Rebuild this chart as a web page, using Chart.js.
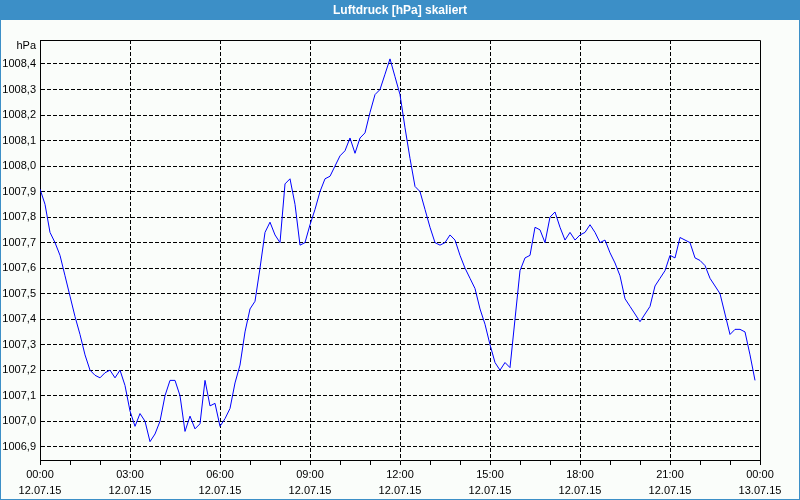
<!DOCTYPE html>
<html>
<head>
<meta charset="utf-8">
<script src="https://cdn.jsdelivr.net/npm/chart.js@4/dist/chart.umd.min.js"></script>
<style>
  html, body { margin: 0; padding: 0; background: #fff; }
  #wrap { width: 800px; height: 500px; }
</style>
</head>
<body>
<div id="wrap"><canvas id="c" width="800" height="500"></canvas></div>
<script>
// ---- data ----
const chartTitle = 'Luftdruck [hPa] skaliert';
const unitLabel = 'hPa';
const sampleIntervalMin = 10;   // one reading every 10 minutes, starting 12.07.15 00:00
const pressure = [
  1007.91, 1007.85, 1007.74, 1007.70, 1007.65, 1007.57, 1007.49, 1007.41, 1007.34, 1007.26,
  1007.20, 1007.18, 1007.17, 1007.19, 1007.20, 1007.17, 1007.20, 1007.14, 1007.04, 1006.98,
  1007.03, 1007.00, 1006.92, 1006.95, 1007.00, 1007.10, 1007.16, 1007.16, 1007.10, 1006.96,
  1007.02, 1006.97, 1006.99, 1007.16, 1007.06, 1007.07, 1006.98, 1007.01, 1007.05, 1007.15,
  1007.22, 1007.35, 1007.44, 1007.47, 1007.60, 1007.74, 1007.78, 1007.73, 1007.70, 1007.93,
  1007.95, 1007.85, 1007.69, 1007.70, 1007.77, 1007.83, 1007.90, 1007.95, 1007.96, 1008.00,
  1008.04, 1008.06, 1008.11, 1008.05, 1008.11, 1008.13, 1008.21, 1008.28, 1008.30, 1008.36,
  1008.42, 1008.35, 1008.28, 1008.15, 1008.03, 1007.92, 1007.90, 1007.83, 1007.76, 1007.70,
  1007.69, 1007.70, 1007.73, 1007.71, 1007.65, 1007.60, 1007.56, 1007.52, 1007.44, 1007.38,
  1007.30, 1007.23, 1007.20, 1007.23, 1007.21, 1007.40, 1007.59, 1007.64, 1007.65, 1007.76,
  1007.75, 1007.70, 1007.80, 1007.82, 1007.76, 1007.71, 1007.74, 1007.71, 1007.73, 1007.74,
  1007.77, 1007.74, 1007.70, 1007.71, 1007.66, 1007.62, 1007.57, 1007.48, 1007.45, 1007.42,
  1007.39, 1007.42, 1007.45, 1007.53, 1007.56, 1007.59, 1007.65, 1007.64, 1007.72, 1007.71,
  1007.70, 1007.64, 1007.63, 1007.61, 1007.56, 1007.53, 1007.50, 1007.42, 1007.34, 1007.36,
  1007.36, 1007.35, 1007.26, 1007.16
];
const yTicks = [1006.9, 1007.0, 1007.1, 1007.2, 1007.3, 1007.4, 1007.5, 1007.6, 1007.7, 1007.8, 1007.9, 1008.0, 1008.1, 1008.2, 1008.3, 1008.4];
const yMin = 1006.848;
const yMax = 1008.494;
const xTickMinutes = [0, 180, 360, 540, 720, 900, 1080, 1260, 1440];
const xTickTimes = ['00:00', '03:00', '06:00', '09:00', '12:00', '15:00', '18:00', '21:00', '00:00'];
const xTickDates = ['12.07.15', '12.07.15', '12.07.15', '12.07.15', '12.07.15', '12.07.15', '12.07.15', '12.07.15', '13.07.15'];
const xMinorStepMin = 60;

// ---- build ----
const points = pressure.map((v, i) => ({ x: i * sampleIntervalMin, y: v }));
const FONT = 'Liberation Sans, Arial, sans-serif';
const BLUE = '#3c8fc7';

const framePlugin = {
  id: 'frame',
  beforeDraw(chart) {
    const ctx = chart.ctx;
    const W = chart.width, H = chart.height;
    ctx.save();
    ctx.fillStyle = '#fafdfa';
    ctx.fillRect(0, 0, W, H);
    ctx.fillStyle = BLUE;
    ctx.fillRect(0, 0, W, 20);
    ctx.fillRect(0, 0, 1, H);
    ctx.fillRect(W - 1, 0, 1, H);
    ctx.fillRect(0, H - 1, W, 1);
    ctx.restore();
  },
  afterDraw(chart) {
    const ctx = chart.ctx;
    const a = chart.chartArea;
    ctx.save();
    ctx.strokeStyle = '#000';
    ctx.lineWidth = 1;
    ctx.beginPath();
    ctx.moveTo(a.left, a.top + 0.5);
    ctx.lineTo(a.right + 0.5, a.top + 0.5);
    ctx.lineTo(a.right + 0.5, a.bottom);
    ctx.stroke();
    ctx.fillStyle = '#000';
    ctx.font = '11px ' + FONT;
    ctx.textAlign = 'right';
    ctx.textBaseline = 'middle';
    ctx.fillText(unitLabel, a.left - 4, a.top + 6);
    ctx.restore();
  }
};

new Chart(document.getElementById('c'), {
  type: 'line',
  data: {
    datasets: [{
      data: points,
      borderColor: '#0000ff',
      borderWidth: 1,
      pointRadius: 0,
      tension: 0,
      fill: false
    }]
  },
  options: {
    responsive: false,
    animation: false,
    events: [],
    layout: { padding: { left: 0, right: 0, top: 0, bottom: 0 } },
    plugins: {
      legend: { display: false },
      tooltip: { enabled: false },
      title: {
        display: true,
        text: chartTitle,
        color: '#ffffff',
        font: { family: FONT, size: 12, weight: 'bold', lineHeight: '13px' },
        padding: { top: 4, bottom: 23 }
      }
    },
    scales: {
      x: {
        type: 'linear',
        min: 0,
        max: 1440,
        afterBuildTicks(scale) {
          const t = [];
          for (let m = 0; m <= 1440; m += xMinorStepMin) t.push({ value: m });
          scale.ticks = t;
        },
        afterFit(scale) { scale.height = 40; },
        ticks: {
          autoSkip: false,
          maxRotation: 0,
          padding: 2,
          color: '#000',
          font: { family: FONT, size: 11, lineHeight: '16px' },
          callback(value) {
            const i = xTickMinutes.indexOf(value);
            return i >= 0 ? [xTickTimes[i], xTickDates[i]] : '';
          }
        },
        grid: {
          drawTicks: true,
          tickLength: 5,
          color: (c) => (c.tick && c.tick.value % 180 === 0 && c.tick.value > 0 && c.tick.value < 1440) ? '#000' : 'rgba(0,0,0,0)',
          tickColor: '#000',
          lineWidth: 1
        },
        border: { display: true, color: '#000', width: 1, dash: [4, 2] }
      },
      y: {
        type: 'linear',
        min: yMin,
        max: yMax,
        afterBuildTicks(scale) {
          scale.ticks = yTicks.map(v => ({ value: v }));
        },
        afterFit(scale) { scale.width = 40; },
        ticks: {
          autoSkip: false,
          padding: 4,
          color: '#000',
          font: { family: FONT, size: 11 },
          callback(value) { return value.toFixed(1).replace('.', ','); }
        },
        grid: {
          drawTicks: false,
          color: '#000',
          lineWidth: 1
        },
        border: { display: true, color: '#000', width: 1, dash: [4, 2] }
      },
      // empty right-hand spacer so the plot ends at the same place as in the reference
      spacer: {
        type: 'linear',
        position: 'right',
        display: true,
        afterFit(scale) { scale.width = 40; },
        ticks: { display: false },
        grid: { display: false, drawTicks: false },
        border: { display: false }
      }
    }
  },
  plugins: [framePlugin]
});
</script>
</body>
</html>
